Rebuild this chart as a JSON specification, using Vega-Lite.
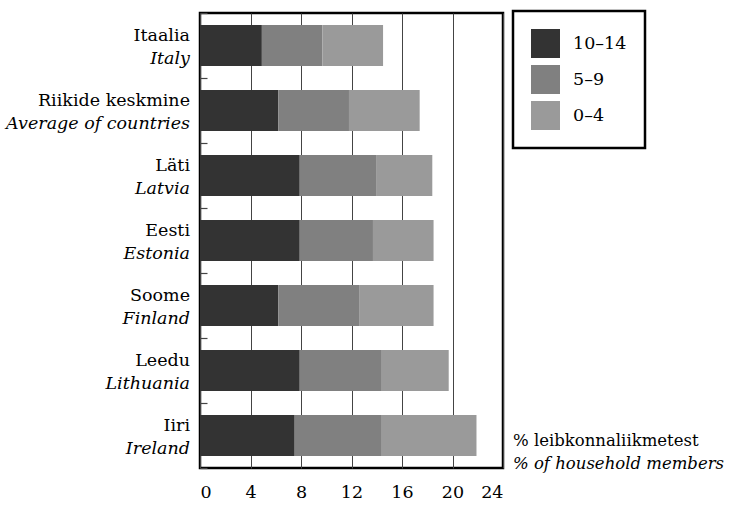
{
  "$schema": "https://vega.github.io/schema/vega-lite/v6.json",
  "width": 303,
  "height": 455,
  "autosize": {"type": "none"},
  "padding": {"left": 200, "top": 13, "right": 232, "bottom": 37},
  "background": "white",
  "config": {
    "font": "DejaVu Serif",
    "view": {"stroke": "black", "strokeWidth": 2.5},
    "axis": {"labelFont": "DejaVu Serif", "labelColor": "black"},
    "legend": {"labelFont": "DejaVu Serif"},
    "text": {"font": "DejaVu Serif"}
  },
  "datasets": {
    "bars": [
      {"country": "Itaalia", "group": "10–14", "rank": 1, "value": 4.9},
      {"country": "Itaalia", "group": "5–9", "rank": 2, "value": 4.8},
      {"country": "Itaalia", "group": "0–4", "rank": 3, "value": 4.8},
      {"country": "Riikide keskmine", "group": "10–14", "rank": 1, "value": 6.2},
      {"country": "Riikide keskmine", "group": "5–9", "rank": 2, "value": 5.6},
      {"country": "Riikide keskmine", "group": "0–4", "rank": 3, "value": 5.6},
      {"country": "Läti", "group": "10–14", "rank": 1, "value": 7.9},
      {"country": "Läti", "group": "5–9", "rank": 2, "value": 6.1},
      {"country": "Läti", "group": "0–4", "rank": 3, "value": 4.4},
      {"country": "Eesti", "group": "10–14", "rank": 1, "value": 7.9},
      {"country": "Eesti", "group": "5–9", "rank": 2, "value": 5.8},
      {"country": "Eesti", "group": "0–4", "rank": 3, "value": 4.8},
      {"country": "Soome", "group": "10–14", "rank": 1, "value": 6.2},
      {"country": "Soome", "group": "5–9", "rank": 2, "value": 6.4},
      {"country": "Soome", "group": "0–4", "rank": 3, "value": 5.9},
      {"country": "Leedu", "group": "10–14", "rank": 1, "value": 7.9},
      {"country": "Leedu", "group": "5–9", "rank": 2, "value": 6.5},
      {"country": "Leedu", "group": "0–4", "rank": 3, "value": 5.3},
      {"country": "Iiri", "group": "10–14", "rank": 1, "value": 7.5},
      {"country": "Iiri", "group": "5–9", "rank": 2, "value": 6.9},
      {"country": "Iiri", "group": "0–4", "rank": 3, "value": 7.5}
    ],
    "labels": [
      {"country": "Itaalia", "en": "Italy"},
      {"country": "Riikide keskmine", "en": "Average of countries"},
      {"country": "Läti", "en": "Latvia"},
      {"country": "Eesti", "en": "Estonia"},
      {"country": "Soome", "en": "Finland"},
      {"country": "Leedu", "en": "Lithuania"},
      {"country": "Iiri", "en": "Ireland"}
    ],
    "unit": [
      {"country": "Iiri", "x": 24, "et": "% leibkonnaliikmetest", "en": "% of household members"}
    ]
  },
  "layer": [
    {
      "data": {"name": "bars"},
      "mark": {"type": "bar", "height": {"band": 0.63}},
      "encoding": {
        "y": {
          "field": "country", "type": "nominal",
          "sort": ["Itaalia", "Riikide keskmine", "Läti", "Eesti", "Soome", "Leedu", "Iiri"],
          "scale": {"paddingInner": 0, "paddingOuter": 0},
          "axis": {
            "title": null, "labels": false, "domain": false,
            "tickBand": "extent", "tickSize": -7, "tickColor": "#444", "tickWidth": 1.2,
            "grid": false
          }
        },
        "x": {
          "field": "value", "type": "quantitative", "stack": "zero",
          "scale": {"domain": [0, 24], "nice": false},
          "axis": {
            "title": null, "values": [0, 4, 8, 12, 16, 20, 24],
            "domain": false, "ticks": false, "labelPadding": 15,
            "labelFontSize": 17.5,
            "grid": true, "gridColor": "#444", "gridWidth": 1, "gridOpacity": 1
          }
        },
        "color": {
          "field": "group", "type": "nominal",
          "scale": {"domain": ["10–14", "5–9", "0–4"], "range": ["#333333", "#808080", "#9a9a9a"]},
          "legend": {
            "title": null, "orient": "none", "legendX": 313, "legendY": -2,
            "symbolType": "square", "symbolSize": 841, "symbolStrokeWidth": 0,
            "symbolOpacity": 1,
            "labelFontSize": 17.5, "labelColor": "black",
            "labelOffset": 13, "rowPadding": 7, "padding": 18,
            "strokeColor": "black",
            "encode": {
              "legend": {"update": {"strokeWidth": {"value": 2.5}}}
            }
          }
        },
        "order": {"field": "rank", "type": "quantitative"}
      }
    },
    {
      "data": {"name": "labels"},
      "mark": {"type": "text", "align": "right", "baseline": "middle", "dx": -10, "dy": -10, "fontSize": 17.5, "color": "black"},
      "encoding": {
        "y": {"field": "country", "type": "nominal", "sort": ["Itaalia", "Riikide keskmine", "Läti", "Eesti", "Soome", "Leedu", "Iiri"]},
        "x": {"datum": 0},
        "text": {"field": "country"}
      }
    },
    {
      "data": {"name": "labels"},
      "mark": {"type": "text", "align": "right", "baseline": "middle", "dx": -10, "dy": 13, "fontSize": 17.5, "fontStyle": "italic", "color": "black"},
      "encoding": {
        "y": {"field": "country", "type": "nominal", "sort": ["Itaalia", "Riikide keskmine", "Läti", "Eesti", "Soome", "Leedu", "Iiri"]},
        "x": {"datum": 0},
        "text": {"field": "en"}
      }
    },
    {
      "data": {"name": "unit"},
      "mark": {"type": "text", "align": "left", "baseline": "middle", "dx": 10, "dy": 5, "fontSize": 16.5, "color": "black"},
      "encoding": {
        "y": {"field": "country", "type": "nominal", "sort": ["Itaalia", "Riikide keskmine", "Läti", "Eesti", "Soome", "Leedu", "Iiri"]},
        "x": {"field": "x", "type": "quantitative"},
        "text": {"field": "et"}
      }
    },
    {
      "data": {"name": "unit"},
      "mark": {"type": "text", "align": "left", "baseline": "middle", "dx": 10, "dy": 28, "fontSize": 16.5, "fontStyle": "italic", "color": "black"},
      "encoding": {
        "y": {"field": "country", "type": "nominal", "sort": ["Itaalia", "Riikide keskmine", "Läti", "Eesti", "Soome", "Leedu", "Iiri"]},
        "x": {"field": "x", "type": "quantitative"},
        "text": {"field": "en"}
      }
    }
  ]
}
